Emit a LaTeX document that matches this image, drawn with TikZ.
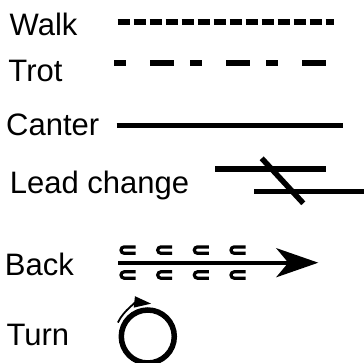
\documentclass[tikz,border=0pt]{standalone}
\usepackage{fontspec}
\setmainfont{Liberation Sans}
\usetikzlibrary{arrows.meta}

\begin{document}
\begin{tikzpicture}[
  x=1pt, y=1pt,
  gaitlabel/.style={anchor=base west, inner sep=0pt, font=\fontsize{31}{37}\selectfont},
  walkline/.style={line width=5.5pt, dash pattern=on 12pt off 4pt},
  trotline/.style={line width=5.5pt, dash pattern=on 12pt off 24pt on 24pt off 16pt},
  canterline/.style={line width=5.5pt},
  leadline/.style={line width=5.5pt},
  backline/.style={line width=4pt, -{Stealth[length=42pt, width=29pt, inset=12pt]}},
  hoof/.style={line width=3.2pt},
  turnline/.style={line width=5.5pt},
  turnarrow/.style={line width=1.8pt, -{Triangle[length=17pt, width=11pt]}}
]
\useasboundingbox (0,0) rectangle (364,-362);

% Gait labels
\node[gaitlabel] (Walk)   at (9.5,-35)    {Walk};
\node[gaitlabel] (Trot)   at (8.3,-81.7)  {Trot};
\node[gaitlabel] (Canter) at (6,-135)     {Canter};
\node[gaitlabel] (Lead)   at (9.7,-193.3) {Lead change};
\node[gaitlabel] (Back)   at (4.7,-275)   {Back};
\node[gaitlabel] (Turn)   at (6.3,-345)   {Turn};

% Walk / Trot / Canter
\coordinate (WalkA)   at (117.7,-22);
\coordinate (WalkB)   at (334.3,-22);
\coordinate (TrotA)   at (114.3,-63);
\coordinate (TrotB)   at (326.7,-63);
\coordinate (CanterA) at (116.7,-125.7);
\coordinate (CanterB) at (343.3,-125.7);
\draw[walkline]   (WalkA) -- (WalkB);
\draw[trotline]   (TrotA) -- (TrotB);
\draw[canterline] (CanterA) -- (CanterB);

% Lead change
\coordinate (LeadTopA) at (215,-169);
\coordinate (LeadTopB) at (325.7,-169);
\coordinate (LeadBotA) at (254,-191.7);
\coordinate (LeadBotB) at (364,-191.7);
\coordinate (LeadX1)   at (261.7,-158.3);
\coordinate (LeadX2)   at (303.3,-203.3);
\draw[leadline] (LeadTopA) -- (LeadTopB);
\draw[leadline] (LeadBotA) -- (LeadBotB);
\draw[leadline] (LeadX1) -- (LeadX2);

% Back: arrow with hoof marks
\coordinate (BackA) at (118,-262.7);
\coordinate (BackB) at (318.3,-262.7);
\draw[backline] (BackA) -- (BackB);
\foreach \hx in {121,157.7,194.3,231} {
  \draw[hoof] (\hx+14.5,-246.9) -- (\hx+3.2,-246.9) arc[start angle=90, end angle=270, radius=3.2] -- (\hx+14.5,-253.3);
  \draw[hoof] (\hx+14.5,-271.8) -- (\hx+3.2,-271.8) arc[start angle=90, end angle=270, radius=3.2] -- (\hx+14.5,-278.2);
}

% Turn
\coordinate (TurnC) at (147.8,-336.5);
\draw[turnline] (TurnC) circle[radius=26.5];
\draw[turnarrow] (TurnC) ++(155:33) arc[start angle=155, end angle=84, radius=33];
\end{tikzpicture}
\end{document}
